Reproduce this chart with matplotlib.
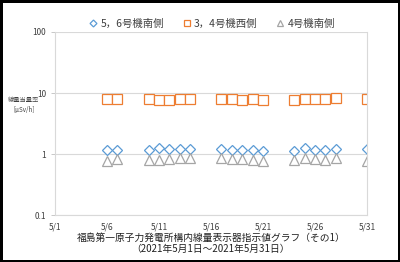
import matplotlib
matplotlib.use("Agg")
import matplotlib.pyplot as plt
from matplotlib.ticker import FixedLocator, NullLocator

plt.rcParams['font.family'] = ['Noto Sans CJK JP', 'DejaVu Sans']

# days of May 2021 with readings
days = [6, 7, 10, 11, 12, 13, 14, 17, 18, 19, 20, 21, 24, 25, 26, 27, 28, 31]
south56 = [1.18, 1.18, 1.18, 1.24, 1.2, 1.2, 1.22, 1.19, 1.17, 1.16, 1.15, 1.12,
           1.13, 1.25, 1.18, 1.17, 1.2, 1.22]
west34 = [8.0, 8.0, 8.0, 7.8, 7.8, 7.9, 7.9, 8.1, 8.0, 7.7, 7.9, 7.6,
          7.8, 8.1, 7.9, 7.9, 8.4, 8.0]
south4 = [0.77, 0.83, 0.8, 0.8, 0.83, 0.85, 0.87, 0.85, 0.82, 0.83, 0.8, 0.78,
          0.79, 0.86, 0.82, 0.81, 0.86, 0.78]
labels = ['5，6号機南側', '3，4号機西側', '4号機南側']
tick_days = [1, 6, 11, 16, 21, 26, 31]
tick_labels = ['5/%d' % d for d in tick_days]

fig = plt.figure(figsize=(4, 2.62), dpi=100, edgecolor='black', linewidth=2.5)
ax = fig.add_axes([0.1375, 0.179, 0.78, 0.699])

ax.plot(days, south56, linestyle='none', marker='D', markersize=5, mfc='white',
        mec='#5B9BD5', mew=0.9, label=labels[0])
ax.plot(days, west34, linestyle='none', marker='s', markersize=6.5, mfc='white',
        mec='#ED7D31', mew=0.9, label=labels[1])
ax.plot(days, south4, linestyle='none', marker='^', markersize=6.5, mfc='white',
        mec='#A5A5A5', mew=0.9, label=labels[2])

ax.set_yscale('log')
ax.set_ylim(0.1, 100)
ax.set_xlim(1, 31)
ax.yaxis.set_major_locator(FixedLocator([0.1, 1, 10, 100]))
ax.yaxis.set_minor_locator(NullLocator())
ax.set_yticklabels(['0.1', '1', '10', '100'])
ax.set_xticks(tick_days)
ax.set_xticklabels(tick_labels)
ax.tick_params(labelsize=6, colors='#404040', length=3, width=0.6)
ax.tick_params(axis='x', length=0, pad=5)
ax.tick_params(axis='y', color='#BFBFBF')
ax.grid(axis='y', color='#D9D9D9', linewidth=0.8)
for s in ax.spines.values():
    s.set_color('#D9D9D9')
    s.set_linewidth(0.8)
ax.spines['top'].set_visible(False)

ax.text(-0.1, 0.6, '線量当量率\n[μSv/h]', transform=ax.transAxes, fontsize=4.5,
        color='#404040', ha='center', va='center', linespacing=1.3)
ax.set_xlabel('福島第一原子力発電所構内線量表示器指示値グラフ（その1）\n（2021年5月1日～2021年5月31日）',
              fontsize=7, color='#202020', labelpad=1, linespacing=1.2)

fig.legend(loc='upper center', bbox_to_anchor=(0.53, 0.965), ncol=3, frameon=False,
           fontsize=7.5, handlelength=0.8, handletextpad=0.3, columnspacing=1.8,
           labelcolor='#404040', markerscale=0.7)

fig.savefig('out.png', dpi=100)
